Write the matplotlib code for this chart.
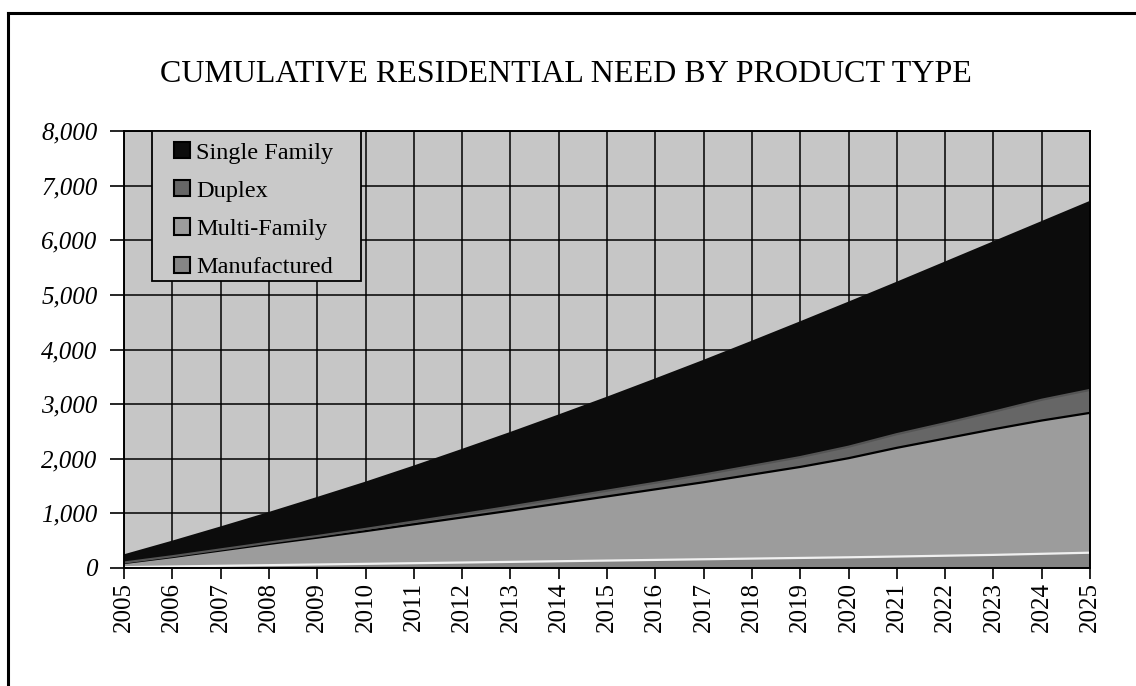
import matplotlib
matplotlib.use("Agg")
import matplotlib.pyplot as plt
from matplotlib.patches import Patch, Rectangle
from matplotlib.lines import Line2D
from matplotlib.ticker import FuncFormatter, MultipleLocator

years = list(range(2005, 2026))

manufactured = [15, 28, 40, 52, 64, 76, 88, 100, 112, 124, 136,
                148, 160, 172, 184, 196, 210, 225, 240, 260, 280]
multi_family = [75, 172, 280, 388, 491, 599, 712, 825, 938, 1056, 1174,
                1292, 1410, 1538, 1666, 1814, 1990, 2145, 2300, 2440, 2560]
duplex = [10, 15, 20, 25, 30, 40, 50, 60, 75, 90, 105,
          120, 140, 160, 180, 210, 250, 280, 320, 380, 420]
single_family = [130, 265, 400, 540, 695, 845, 1005, 1175, 1345, 1520, 1700,
                 1890, 2080, 2270, 2465, 2635, 2770, 2940, 3100, 3250, 3440]

series_names = ["Manufactured", "Multi-Family", "Duplex", "Single Family"]
series_values = [manufactured, multi_family, duplex, single_family]
series_colors = ["#858585", "#9c9c9c", "#666666", "#0c0c0c"]
edge_colors = ["#f0f0f0", "#000000", "#555555", "#0c0c0c"]

title_text = "CUMULATIVE RESIDENTIAL NEED BY PRODUCT TYPE"
serif = ["Liberation Serif", "DejaVu Serif"]

fig = plt.figure(figsize=(11.36, 6.86), dpi=100)
W, H = 1136, 686
left, right, top, bottom = 124, 1090, 131, 568
ax = fig.add_axes([left / W, 1 - bottom / H, (right - left) / W, (bottom - top) / H])

def ax_xy(px, py):
    # pixel position -> axes fraction
    return (px - left) / (right - left), (bottom - py) / (bottom - top)

ax.set_facecolor("#c6c6c6")
ax.set_xlim(2005, 2025)
ax.set_ylim(0, 8000)

# gridlines behind the stacked areas
ax.set_axisbelow(True)
ax.xaxis.set_major_locator(MultipleLocator(1))
ax.yaxis.set_major_locator(MultipleLocator(1000))
ax.grid(True, which="major", color="#000000", linewidth=1.1)

ax.stackplot(years, *series_values, colors=series_colors, linewidth=0, zorder=2)

# boundary lines between layers
running = [0] * len(years)
for vals, ec in zip(series_values, edge_colors):
    running = [r + v for r, v in zip(running, vals)]
    ax.plot(years, running, color=ec, linewidth=1.6, zorder=3)

for sp in ax.spines.values():
    sp.set_color("#000000")
    sp.set_linewidth(1.4)
    sp.set_zorder(4)

ax.yaxis.set_major_formatter(FuncFormatter(lambda v, p: f"{int(v):,}"))
ax.set_xticks(years)
ax.set_xticklabels([str(y) for y in years], rotation=90, family=serif,
                   fontsize=18)
for lab in ax.get_yticklabels():
    lab.set_family(serif)
    lab.set_style("italic")
    lab.set_fontsize(18)
ax.tick_params(axis="y", direction="out", length=10, width=1.2, pad=9)
ax.tick_params(axis="x", direction="out", length=8, width=1.2, pad=2)

# legend box
x0, y0 = ax_xy(152, 281)
x1, y1 = ax_xy(361, 131)
ax.add_patch(Rectangle((x0, y0), x1 - x0, y1 - y0, transform=ax.transAxes,
                       facecolor="#c9c9c9", edgecolor="#000000",
                       linewidth=1.3, zorder=5))

handles = [Patch(facecolor=series_colors[i], edgecolor="#000000", linewidth=1.5)
           for i in [3, 2, 1, 0]]
labels = [series_names[i] for i in [3, 2, 1, 0]]
lx, ly = ax_xy(174, 142)
leg = ax.legend(handles, labels, loc="upper left", bbox_to_anchor=(lx, ly),
                prop={"family": serif, "size": 17.5},
                frameon=False, borderpad=0.0,
                handlelength=0.65, handleheight=0.65, handletextpad=0.25,
                labelspacing=0.68, borderaxespad=0.0)
leg.set_zorder(6)

fig.text(566 / W, 1 - 74 / H, title_text, ha="center", va="center",
         family=serif, fontsize=23)

# outer frame of the figure
fig.add_artist(Line2D([8 / W, 8 / W], [0, 1 - 13 / H], color="#000000",
                      linewidth=2.2, transform=fig.transFigure))
fig.add_artist(Line2D([8 / W, 1.0], [1 - 13 / H, 1 - 13 / H], color="#000000",
                      linewidth=2.2, transform=fig.transFigure))

fig.savefig("out.png", dpi=100, facecolor="white")
